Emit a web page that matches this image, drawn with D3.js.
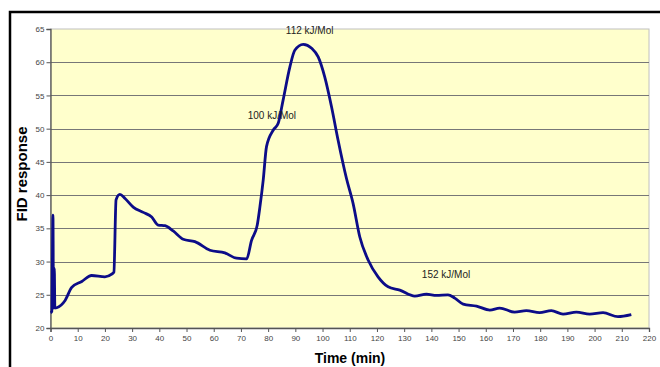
<!DOCTYPE html>
<html><head><meta charset="utf-8">
<script src="https://cdn.jsdelivr.net/npm/d3@7"></script>
<style>html,body{margin:0;padding:0;background:#fff;}svg{display:block;}</style>
</head><body>
<svg id="chart" width="660" height="367"></svg>
<script>
const times = [0,0.5,0.9,1.1,1.4,1.6,2.3,5.3,7.8,11.5,15.1,20,22.5,23.3,24.1,25.5,27.4,30.4,34.1,37.2,39.6,42.1,45.1,48.8,53.1,58.6,64.1,68.4,72.1,73.9,76,77,78.2,79.4,81.9,83.7,85.5,88,89.8,92.9,96,98.4,100.8,103.3,105.7,108.8,111.2,113.7,116.8,120.4,124.1,128.4,133.9,138.2,141.9,146.1,148.6,151.7,156.6,161.5,165.1,170.6,174.9,179.8,184.1,188.4,193.3,198.2,203.1,208.6,213.5];
const fid = [22.3,22.5,37,23,29,23,23.05,24.1,26.1,27.0,27.9,27.7,28.1,28.4,39.3,40.1,39.5,38.2,37.4,36.7,35.5,35.4,34.6,33.35,33.0,31.7,31.3,30.5,30.4,33.2,35.5,38.3,42.3,47.3,49.8,50.8,54.3,59.3,61.8,62.7,62.1,60.8,57.8,53.3,48.3,42.5,38.8,33.7,30.2,27.7,26.2,25.7,24.8,25.1,24.9,25.0,24.5,23.6,23.3,22.7,23.0,22.4,22.6,22.3,22.6,22.1,22.4,22.1,22.3,21.7,22.0];
const xTicks = d3.range(0, 221, 10);
const yTicks = d3.range(20, 66, 5);
const annotations = ["112 kJ/Mol","100 kJ/Mol","152 kJ/Mol"];
const annotationAt = [[86.5,64.25],[72.5,51.45],[136.5,27.5]];

const svg = d3.select("#chart");
const L = 50.5, R = 649, T = 29, B = 328;
const x = d3.scaleLinear().domain([0,220]).range([L,R]);
const y = d3.scaleLinear().domain([20,65]).range([B,T]);

// outer frame
svg.append("rect").attr("x",10).attr("y",12).attr("width",700).attr("height",400)
  .attr("fill","none").attr("stroke","#000").attr("stroke-width",2.5);

// plot background
svg.append("rect").attr("x",L).attr("y",T).attr("width",R-L).attr("height",B-T)
  .attr("fill","#FFFFCC").attr("stroke","#c0c0c0").attr("stroke-width",1);

// gridlines
svg.append("g").selectAll("line").data(yTicks.filter(d=>d>20 && d<65)).join("line")
  .attr("x1",L).attr("x2",R).attr("y1",d=>Math.round(y(d))+0.5).attr("y2",d=>Math.round(y(d))+0.5)
  .attr("stroke","#777").attr("stroke-width",1.2);

// axes
const yAxis = d3.axisLeft(y).tickValues(yTicks).tickSize(4).tickPadding(2);
const gy = svg.append("g").attr("transform",`translate(${L},0)`).call(yAxis);
const xAxis = d3.axisBottom(x).tickValues(xTicks).tickSize(4).tickPadding(3);
const gx = svg.append("g").attr("transform",`translate(0,${B})`).call(xAxis);
[gx,gy].forEach(g=>{
  g.select(".domain").attr("stroke","#555").attr("stroke-width",1.3);
  g.selectAll(".tick line").attr("stroke","#555");
  g.selectAll("text").attr("font-family","Arial, 'Liberation Sans', sans-serif").attr("font-size",8).attr("fill","#444");
});

// line
const line = d3.line().x((d,i)=>x(times[i])).y(d=>y(d)).curve(d3.curveMonotoneX);
svg.append("path").datum(fid).attr("d",line).attr("fill","none")
  .attr("stroke","#0c0c88").attr("stroke-width",2.8).attr("stroke-linejoin","round");

// annotations
svg.append("g").selectAll("text").data(annotations).join("text")
  .attr("x",(d,i)=>x(annotationAt[i][0])).attr("y",(d,i)=>y(annotationAt[i][1]))
  .attr("font-family","Arial, 'Liberation Sans', sans-serif").attr("font-size",10).attr("fill","#222")
  .text(d=>d);

// titles
svg.append("text").attr("x",350).attr("y",363).attr("text-anchor","middle")
  .attr("font-family","Arial, 'Liberation Sans', sans-serif").attr("font-size",14).attr("font-weight","bold")
  .text("Time (min)");
svg.append("text").attr("transform","translate(27,174) rotate(-90)").attr("text-anchor","middle")
  .attr("font-family","Arial, 'Liberation Sans', sans-serif").attr("font-size",15).attr("font-weight","bold")
  .text("FID response");
</script>
</body></html>
